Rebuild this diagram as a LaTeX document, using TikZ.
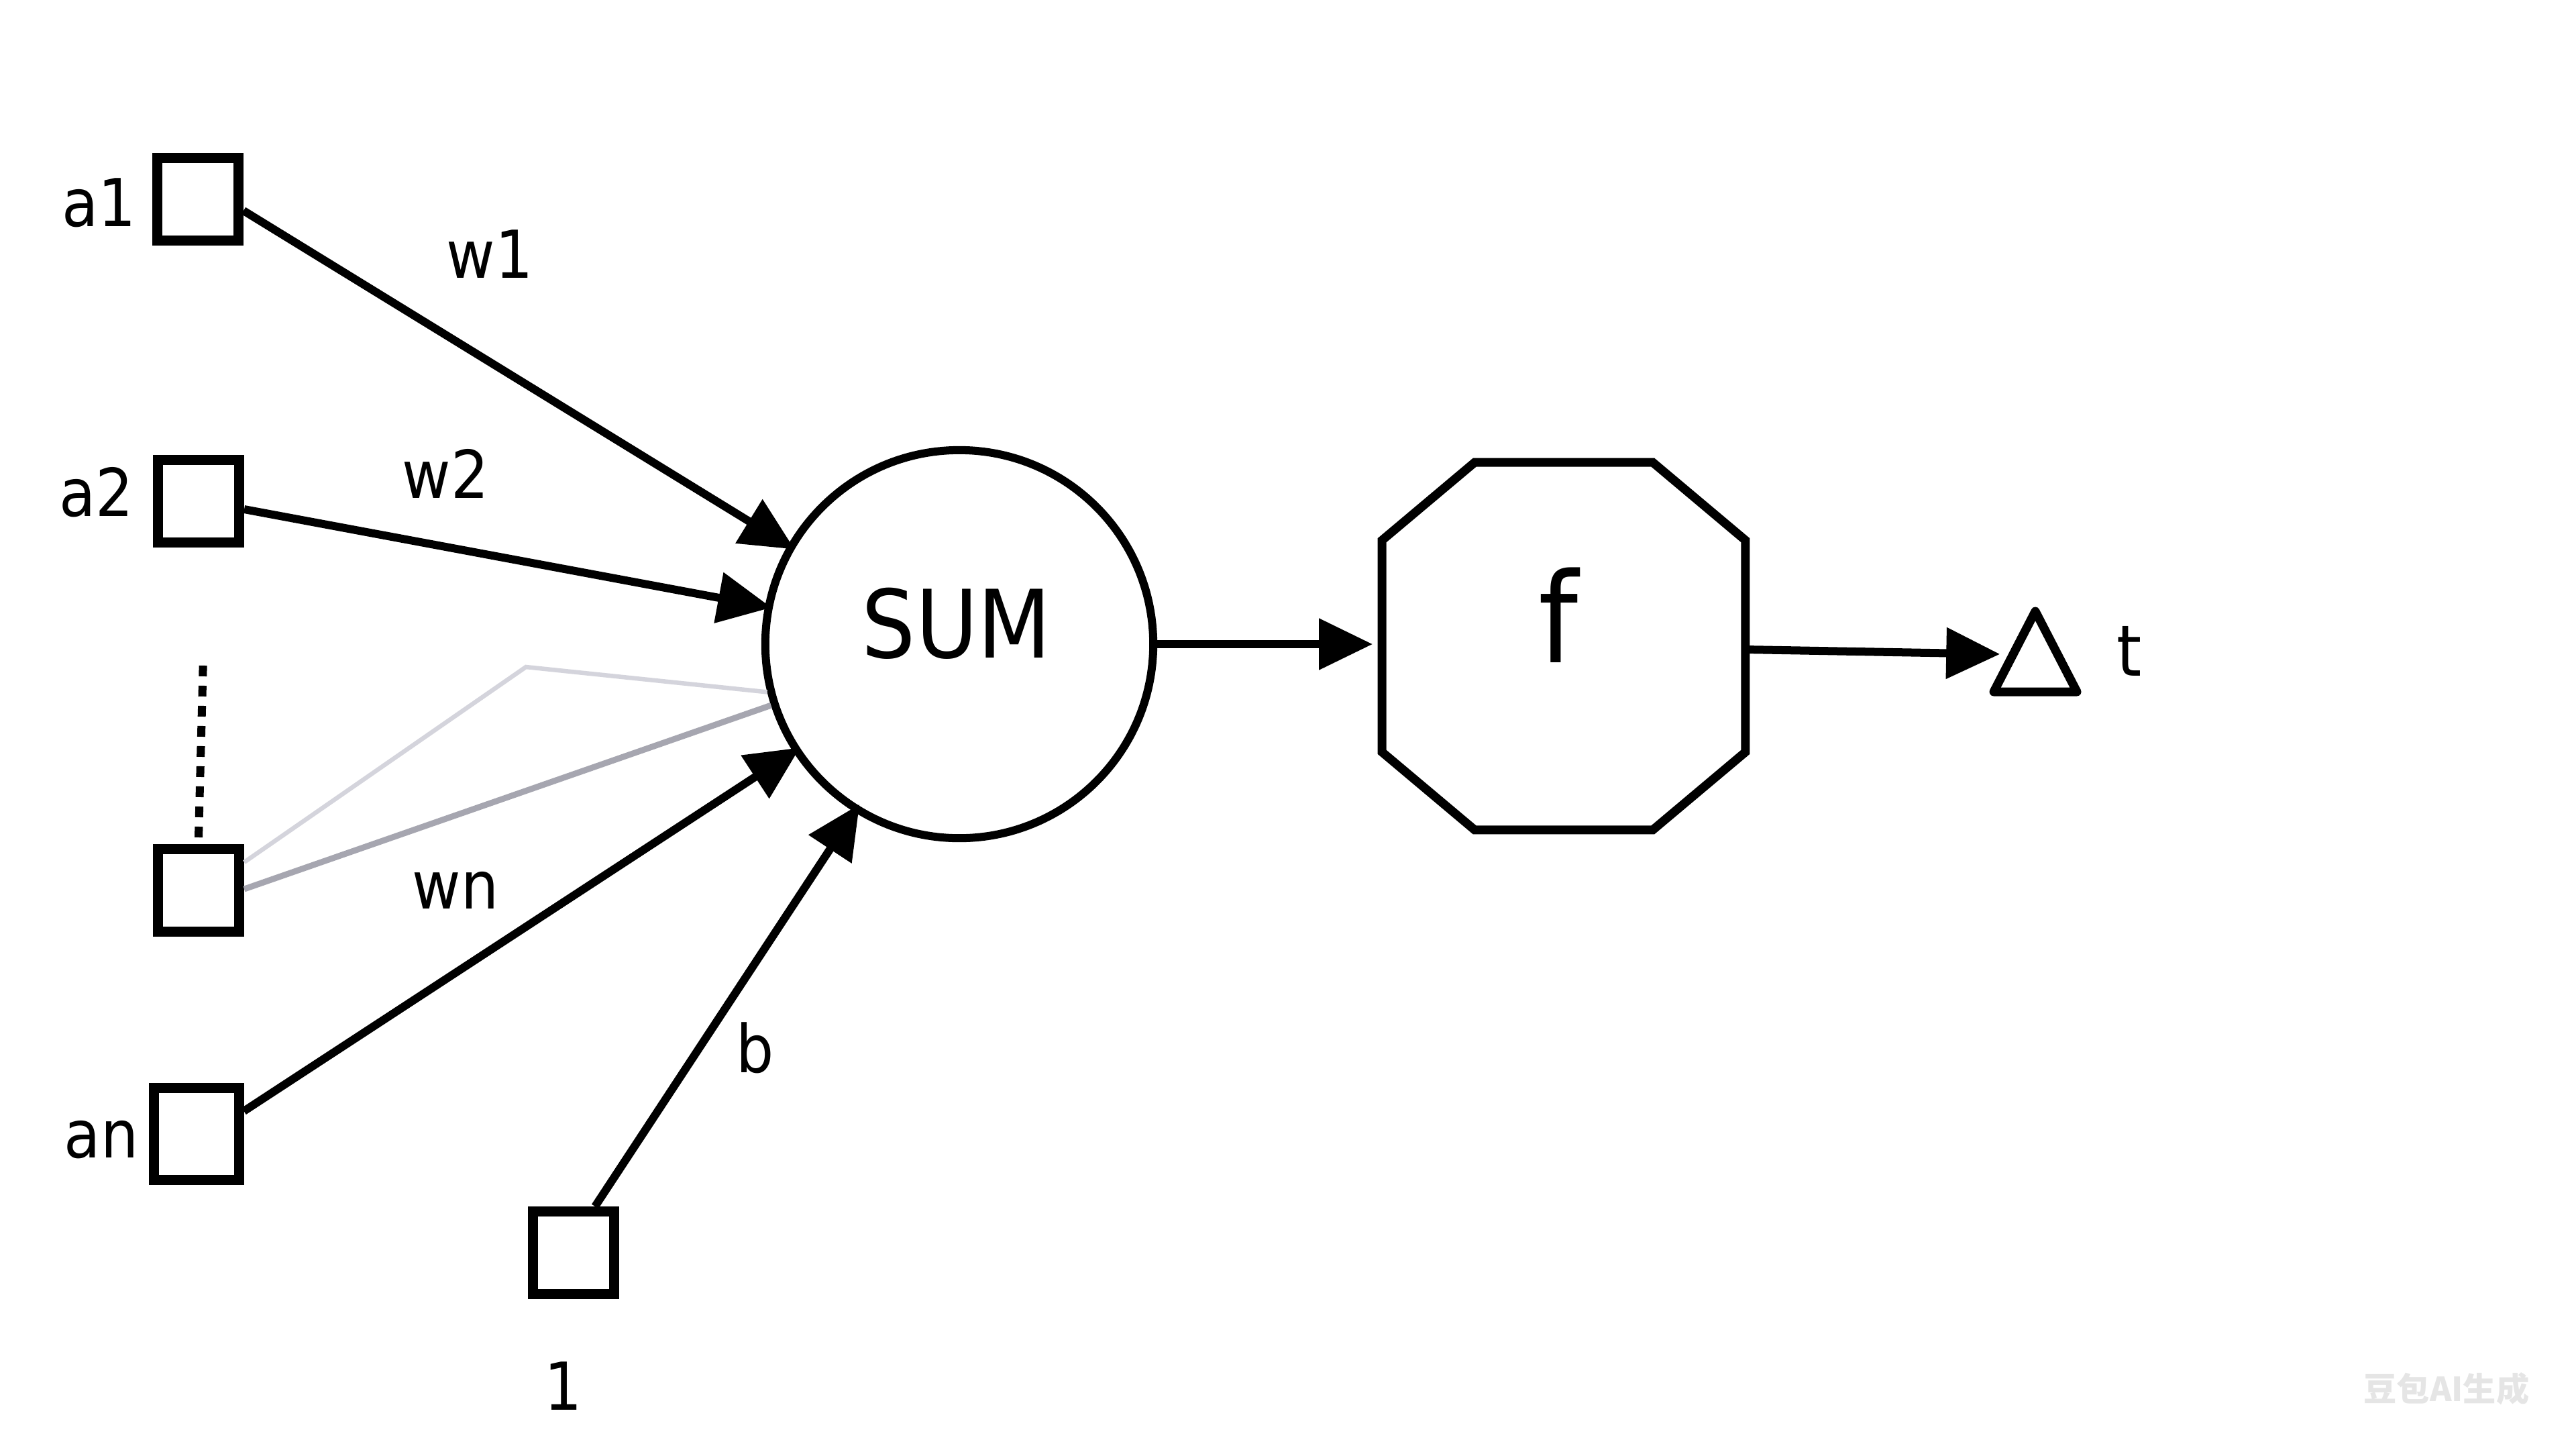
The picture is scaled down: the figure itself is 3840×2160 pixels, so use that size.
\documentclass[tikz,border=0pt]{standalone}
\usepackage{fontspec}
\setmainfont{DejaVu Sans}[FakeStretch=0.9]
\newfontfamily\cjk{Noto Sans CJK SC}
\usetikzlibrary{arrows.meta}
\definecolor{faintA}{HTML}{D4D4DC}
\definecolor{faintB}{HTML}{A6A6B0}
\begin{document}
\begin{tikzpicture}[x=0.01cm,y=-0.01cm,
  lbl/.style={font=\fontsize{28}{33}\selectfont, inner sep=0pt},
  inbox/.style={draw, line width=0.15cm, minimum width=1.21cm, minimum height=1.23cm, inner sep=0pt},
  conn/.style={line width=0.12cm, -{Triangle[length=0.8cm,width=0.74cm]}},
  shape border/.style={line width=0.13cm, line join=miter}
]
\fill[white] (0,0) rectangle (3840,2160);
\useasboundingbox (0,0) rectangle (3840,2160);

% input boxes
\node[inbox] (a1) at (295,297) {};
\node[inbox] (a2) at (296,747) {};
\node[inbox] (ai) at (296,1327) {};
\node[inbox, minimum height=1.36cm, minimum width=1.26cm] (an) at (293,1690) {};
\node[inbox] (one) at (855,1867) {};

% labels
\node[lbl] (la1) at (148,302) {a1};
\node[lbl] (la2) at (144,734) {a2};
\node[lbl] (lan) at (151,1699) {an};
\node[lbl] (lone) at (840,2066) {1};
\node[lbl] (lw1) at (730,379) {w1};
\node[lbl] (lw2) at (664,706) {w2};
\node[lbl] (lwn) at (679,1327) {wn};
\node[lbl] (lb) at (1126,1562) {b};

% SUM
\node[circle, draw, line width=0.12cm, minimum size=5.78cm, inner sep=0pt] (S) at (1430,960) {};
\node[font=\fontsize{40}{46}\selectfont, inner sep=0pt] (sumtxt) at (1426,929) {SUM};

% activation octagon
\node[rectangle, minimum width=5.4cm, minimum height=5.46cm, inner sep=0pt] (F) at (2331,963) {};
\node[font=\fontsize{53}{60}\selectfont, inner sep=0pt] (ftxt) at (2323,917) {f};
\draw[shape border]
  ([xshift=1.38cm]F.north west) -- ([xshift=-1.38cm]F.north east)
  -- ([yshift=-1.16cm]F.north east) -- ([yshift=1.16cm]F.south east)
  -- ([xshift=-1.38cm]F.south east) -- ([xshift=1.38cm]F.south west)
  -- ([yshift=1.16cm]F.south west) -- ([yshift=-1.16cm]F.north west) -- cycle;

% output triangle
\node[rectangle, minimum width=0.9cm, minimum height=1.3cm, inner sep=0pt] (T) at (3034,975) {};
\draw[line width=0.13cm, line join=round]
  (3034,911) -- (3096,1031) -- (2972,1031) -- cycle;
\node[font=\fontsize{30}{36}\selectfont, inner sep=0pt] (lt) at (3174,970) {t};

% dotted continuation
\coordinate (dtop) at (303,980);
\draw[line width=0.12cm, dash pattern=on 0.16cm off 0.14cm] ([yshift=0.1cm]ai.north) -- (dtop);

% faint connections
\coordinate (bend) at (784,994);
\draw[faintA, line width=0.065cm] ([yshift=0.42cm]ai.east) -- (bend) -- (S.194);
\draw[faintB, line width=0.09cm] ([yshift=0.02cm]ai.east) -- (S.198);

% weighted connections
\draw[conn, shorten >=-0.12cm] ([yshift=-0.17cm]a1.east) -- (S.150);
\draw[conn, shorten >=-0.1cm] ([yshift=-0.12cm]a2.east) -- (S.169);
\draw[conn, shorten >=-0.12cm] ([yshift=0.34cm]an.east) -- (S.213);
\draw[conn, shorten >=-0.14cm] ([xshift=0.32cm]one.north) -- (S.238);

% forward connections
\draw[conn, shorten <=-0.02cm, shorten >=0.14cm] (S.east) -- (S.east -| F.west);
\draw[conn, shorten >=0.07cm] ([yshift=-0.05cm]F.east) -- (T.west);

% watermark
\node[font=\cjk\bfseries\fontsize{14}{17}\selectfont, text=black!10, inner sep=0pt] (wm) at (3647,2070) {豆包AI生成};
\end{tikzpicture}
\end{document}
